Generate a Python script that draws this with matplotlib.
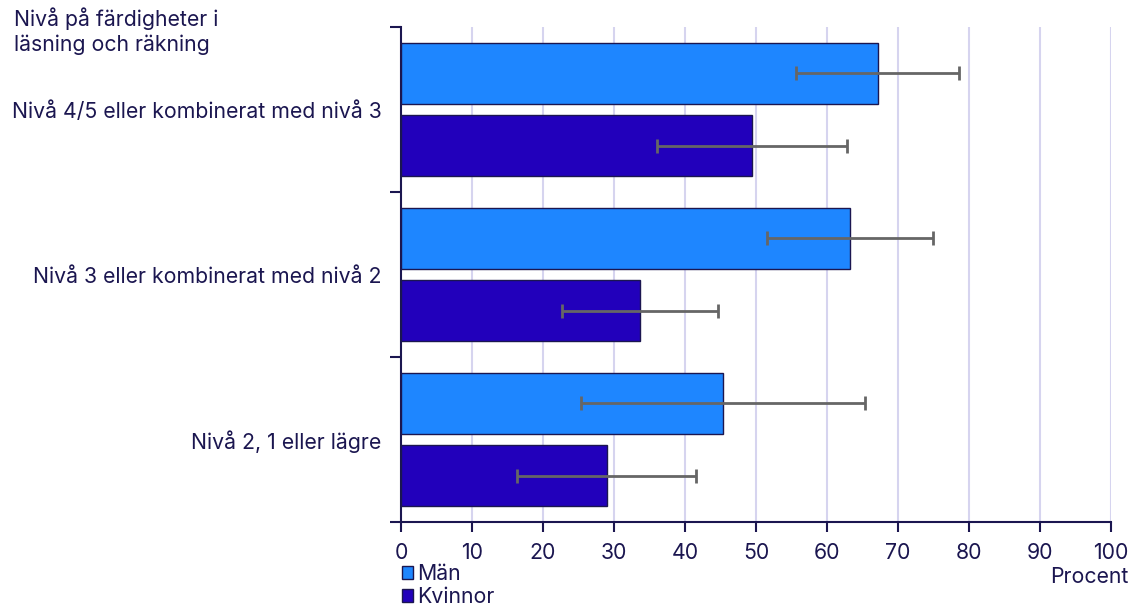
import matplotlib.pyplot as plt
from matplotlib.patches import Patch
import numpy as np

plt.rcParams['font.family'] = ['Inter', 'DejaVu Sans']

categories = ['Nivå 4/5 eller kombinerat med nivå 3',
              'Nivå 3 eller kombinerat med nivå 2',
              'Nivå 2, 1 eller lägre']
man = [67.2, 63.3, 45.4]
man_lo = [55.6, 51.5, 25.3]
man_hi = [78.6, 74.9, 65.3]
kvinnor = [49.5, 33.6, 29.0]
kvinnor_lo = [36.1, 22.7, 16.4]
kvinnor_hi = [62.8, 44.6, 41.5]

navy = '#1b1650'
c_man = '#1e86ff'
c_kv = '#2200bb'
fs = 15.3

fig = plt.figure(figsize=(11.36, 6.06), dpi=100)
ax = fig.add_axes([0.353, 0.1386, 0.625, 0.8168])

y = np.arange(len(categories))
h = 0.37
ym = y - 0.22
yk = y + 0.22

ax.barh(ym, man, height=h, color=c_man, edgecolor=navy, linewidth=1, zorder=3)
ax.barh(yk, kvinnor, height=h, color=c_kv, edgecolor=navy, linewidth=1, zorder=3)

man = np.array(man)
kvinnor = np.array(kvinnor)
ax.errorbar(man, ym, xerr=[man - np.array(man_lo), np.array(man_hi) - man],
            fmt='none', ecolor='#666666', elinewidth=2, capsize=5, capthick=2, zorder=4)
ax.errorbar(kvinnor, yk, xerr=[kvinnor - np.array(kvinnor_lo), np.array(kvinnor_hi) - kvinnor],
            fmt='none', ecolor='#666666', elinewidth=2, capsize=5, capthick=2, zorder=4)

ax.set_xlim(0, 100)
ax.set_ylim(2.5, -0.5)
ax.set_xticks(range(0, 101, 10))
ax.set_yticks(y)
ax.set_yticklabels(categories)
ax.set_yticks([-0.5, 0.5, 1.5, 2.5], minor=True)
ax.tick_params(axis='y', which='major', length=0, pad=14, labelsize=fs, labelcolor=navy)
ax.tick_params(axis='y', which='minor', length=8, width=1.5, color=navy)
ax.tick_params(axis='x', length=7, width=1.5, color=navy, labelsize=fs, labelcolor=navy, pad=8)

for s in ['top', 'right']:
    ax.spines[s].set_visible(False)
for s in ['left', 'bottom']:
    ax.spines[s].set_color(navy)
    ax.spines[s].set_linewidth(1.5)

for v in range(10, 101, 10):
    ax.axvline(v, color='#d6d4ef', linewidth=1.5, zorder=1)

fig.text(0.012, 0.988, 'Nivå på färdigheter i\nläsning och räkning', ha='left', va='top',
         fontsize=fs, color=navy, linespacing=1.25)
fig.text(0.993, 0.048, 'Procent', ha='right', va='center', fontsize=fs, color=navy)

handles = [Patch(facecolor=c_man, edgecolor=navy, label='Män'),
           Patch(facecolor=c_kv, edgecolor=navy, label='Kvinnor')]
leg = fig.legend(handles=handles, loc='lower left', bbox_to_anchor=(0.346, -0.016),
                 frameon=False, fontsize=fs, handlelength=0.55, handleheight=0.6,
                 handletextpad=0.2, labelspacing=0.15, borderaxespad=0)
for t in leg.get_texts():
    t.set_color(navy)

fig.savefig('out.png', dpi=100)
